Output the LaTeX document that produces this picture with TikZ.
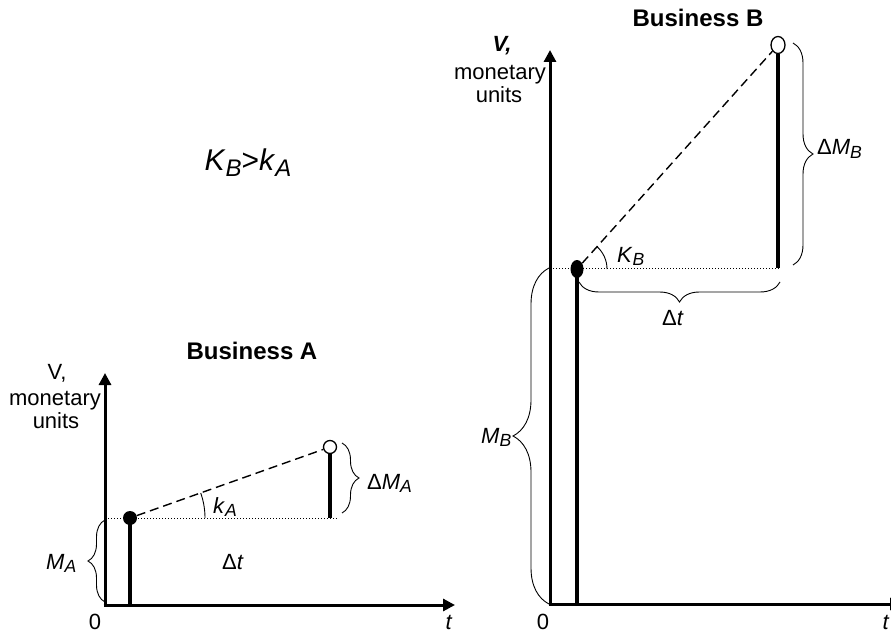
\documentclass[tikz,border=0pt]{standalone}
\usepackage{fontspec}
\setmainfont{Liberation Sans}
\usepackage{graphicx}
\usetikzlibrary{arrows.meta,decorations.pathreplacing,shapes.geometric}
\newcommand\lsub[1]{\raisebox{-0.32ex}{\scalebox{0.8}{#1}}}
\begin{document}
\begin{tikzpicture}[x=1pt,y=1pt,
  axisline/.style={line width=3pt,-{Triangle[length=12pt,width=12pt]}},
  stemline/.style={line width=3.5pt},
  slopeline/.style={line width=1.4pt,dash pattern=on 9pt off 5pt},
  levelline/.style={line width=0.9pt,dash pattern=on 1pt off 2pt},
  bracedec/.style={decorate,decoration={brace,amplitude=#1},line width=0.9pt},
  anglearc/.style={line width=0.9pt},
  lab/.style={font=\fontsize{22}{25}\selectfont,inner sep=0pt},
  title/.style={font=\fontsize{24}{28}\selectfont\bfseries,inner sep=0pt},
  fulldot/.style={fill=black,inner sep=0pt},
  emptydot/.style={draw=black,fill=white,line width=1.3pt,inner sep=0pt}
]
\useasboundingbox (0,0) rectangle (891,633);

% ---------------- Business A ----------------
\coordinate (OA) at (105,28);
\coordinate (yA) at (105,260);
\coordinate (xA) at (455,28);
\coordinate (cA) at (130,115);
\coordinate (bA) at (130,28);
\coordinate (lvA0) at (105,115);
\coordinate (lvA1) at (337,115);
\coordinate (sA) at (330,115);
\coordinate (eA) at (330,186);

\draw[axisline] (OA) -- (yA);
\draw[axisline,shorten <=-1.5pt] (OA) -- (xA);
\draw[levelline] (lvA0) -- (lvA1);
\draw[stemline] (cA) -- (bA);
\node[fulldot,circle,minimum size=14pt] (dotA) at (cA) {};
\node[emptydot,circle,minimum size=13pt] (openA) at (eA) {};
\draw[stemline] (openA.south) -- (sA);
\draw[slopeline] (dotA) -- (openA);
\draw[anglearc] ([shift={(0:75)}]cA) arc[start angle=0,end angle=19.5,radius=75];

\coordinate (brA1) at (342,190);
\coordinate (brA2) at (342,120);
\draw[bracedec=17] (brA1) -- (brA2);
\coordinate (brM1) at (105,31);
\coordinate (brM2) at (105,113);
\draw[bracedec=17] (brM1) -- (brM2);

\node[title,anchor=base] (titleA) at (252,274) {Business A};
\node[lab,anchor=base] (vA) at (57,254) {V,};
\node[lab,anchor=base] (monA) at (55,228) {monetary};
\node[lab,anchor=base] (unA) at (56,205) {units};
\node[lab,anchor=base west] (kA) at (213,120) {\textit{k}\lsub{\textit{A}}};
\node[lab,anchor=base west] (dMA) at (367,144) {Δ\textit{M}\lsub{\textit{A}}};
\node[lab,anchor=base west] (MA) at (46,64) {\textit{M}\lsub{\textit{A}}};
\node[lab,anchor=base west] (dtA) at (222,64) {Δ\textit{t}};
\node[lab,anchor=base] (zeroA) at (95,4) {0};
\node[lab,anchor=base] (tA) at (449,4) {\textit{t}};

\node[inner sep=0pt,anchor=base,font=\fontsize{30}{34}\selectfont] (cmp) at (248,462)
  {\textit{K}\lsub{\textit{B}}>\textit{k}\lsub{\textit{A}}};

% ---------------- Business B ----------------
\coordinate (OB) at (550,29);
\coordinate (yB) at (550,583);
\coordinate (xB) at (902,29);
\coordinate (cB) at (577,364);
\coordinate (bB) at (577,29);
\coordinate (lvB0) at (550,365);
\coordinate (lvB1) at (780,365);
\coordinate (sB) at (778,365);
\coordinate (eB) at (778,588);

\draw[axisline] (OB) -- (yB);
\draw[axisline,shorten <=-1.5pt] (OB) -- (xB);
\draw[levelline] (lvB0) -- (lvB1);
\draw[stemline] (cB) -- (bB);
\node[fulldot,ellipse,minimum width=13pt,minimum height=18pt] (dotB) at (cB) {};
\node[emptydot,ellipse,minimum width=14pt,minimum height=17pt] (openB) at (eB) {};
\draw[stemline] (openB.south) -- (sB);
\draw[slopeline] (dotB) -- (openB);
\draw[anglearc] ([shift={(0:30)}]cB) arc[start angle=0,end angle=48,radius=30];

\coordinate (brB1) at (793,590);
\coordinate (brB2) at (793,368);
\draw[bracedec=20] (brB1) -- (brB2);
\coordinate (brT1) at (780,351);
\coordinate (brT2) at (579,351);
\draw[bracedec=20] (brT1) -- (brT2);
\coordinate (brN1) at (549,29);
\coordinate (brN2) at (549,365);
\draw[bracedec=36] (brN1) -- (brN2);

\node[title,anchor=base] (titleB) at (698,606) {Business B};
\node[lab,anchor=base] (vB) at (502,581) {\textbf{\textit{V,}}};
\node[lab,anchor=base] (monB) at (500,553) {monetary};
\node[lab,anchor=base] (unB) at (499,530) {units};
\node[lab,anchor=base west] (kB) at (617,371) {\textit{K}\lsub{\textit{B}}};
\node[lab,anchor=base west] (dMB) at (817,478) {Δ\textit{M}\lsub{\textit{B}}};
\node[lab,anchor=base west] (dtB) at (662,308) {Δ\textit{t}};
\node[lab,anchor=base west] (MB) at (481,190) {\textit{M}\lsub{\textit{B}}};
\node[lab,anchor=base] (zeroB) at (543,4) {0};
\node[lab,anchor=base] (tB) at (886,4) {\textit{t}};
\end{tikzpicture}
\end{document}
